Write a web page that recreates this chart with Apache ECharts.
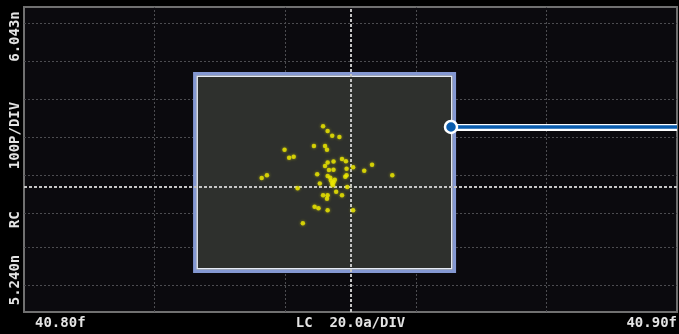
<!DOCTYPE html>
<html>
<head>
<meta charset="utf-8">
<script src="https://cdn.jsdelivr.net/npm/echarts@6/dist/echarts.min.js"></script>
<style>
html,body{margin:0;padding:0;background:#000;}
#chart{width:679px;height:334px;}
</style>
</head>
<body>
<div id="chart"></div>
<script>
// ---- data (LC in fF, RC in nF) ----
const lcValues = [40.8458,40.8465,40.8472,40.8483,40.8399,40.8444,40.8461,40.8464,40.8406,40.8413,
  40.8465,40.8474,40.8487,40.8493,40.8461,40.8504,40.8533,40.8494,40.8467,40.8474,
  40.8521,40.8564,40.8372,40.8364,40.8449,40.8465,40.8469,40.8476,40.8494,40.8492,
  40.8474,40.8453,40.8473,40.8495,40.8419,40.8478,40.8458,40.8465,40.8487,40.8464,
  40.8445,40.8451,40.8465,40.8504,40.8427,40.8470,40.8472];
const rcValues = [5.7289,5.7165,5.7042,5.7007,5.6673,5.6770,5.6770,5.6670,5.6460,5.6489,
  5.6336,5.6362,5.6428,5.6368,5.6244,5.6210,5.6276,5.6173,5.6139,5.6146,
  5.6120,5.5999,5.5999,5.5928,5.6025,5.5981,5.5936,5.5883,5.5999,5.5960,
  5.5817,5.5783,5.5738,5.5691,5.5657,5.5567,5.5472,5.5472,5.5472,5.5383,
  5.5170,5.5130,5.5078,5.5078,5.4735,5.5862,5.5783];
const xTickValues = [40.80, 40.90];
const xTickLabels = ['40.80f', '40.90f'];
const yTickValues = [5.240, 6.043];
const yTickLabels = ['5.240n', '6.043n'];
const xAxisName = 'LC  20.0a/DIV';
const yAxisName = 'RC     100P/DIV';
const xGridValues = [40.82, 40.84, 40.86, 40.88];
const yGridValues = [5.3058, 5.4059, 5.5033, 5.6033, 5.7007, 5.8008, 5.8982, 5.9982];
const centerX = 40.8495;
const centerY = 5.5685;

const points = lcValues.map((x, i) => [x, rcValues[i]]);

const FONT = 'bold 14px "DejaVu Sans Mono", "Liberation Mono", monospace';
const TXT = '#e4e4e4';

const chart = echarts.init(document.getElementById('chart'), null, {renderer: 'canvas'});
const option = {
  backgroundColor: '#000',
  animation: false,
  grid: {
    left: 24, right: 2, top: 7, bottom: 22,
    outerBoundsMode: 'none', containLabel: false,
    show: true, backgroundColor: '#0b0a0e',
    borderColor: '#707070', borderWidth: 2
  },
  xAxis: {
    type: 'value', min: xTickValues[0], max: xTickValues[1],
    axisLine: {show: false}, axisTick: {show: false}, splitLine: {show: false},
    name: xAxisName, nameLocation: 'middle', nameGap: 4, nameMoveOverlap: false,
    nameTextStyle: {color: TXT, fontFamily: '"DejaVu Sans Mono", monospace', fontWeight: 'bold', fontSize: 14, verticalAlign: 'top'},
    axisLabel: {
      customValues: xTickValues,
      formatter: v => xTickLabels[xTickValues.findIndex(t => Math.abs(t - v) < 1e-6)],
      alignMinLabel: 'left', alignMaxLabel: 'right',
      padding: [0, 0, 0, 11], margin: 4,
      color: TXT, fontFamily: '"DejaVu Sans Mono", monospace', fontWeight: 'bold', fontSize: 14
    }
  },
  yAxis: {
    type: 'value', min: yTickValues[0], max: yTickValues[1],
    axisLine: {show: false}, axisTick: {show: false}, splitLine: {show: false},
    axisLabel: {show: false}
  },
  graphic: [
    {type: 'text', x: 15, y: 280, rotation: Math.PI / 2, silent: true,
     style: {text: yTickLabels[0], align: 'center', verticalAlign: 'middle', fill: TXT, font: FONT}},
    {type: 'text', x: 15, y: 36.5, rotation: Math.PI / 2, silent: true,
     style: {text: yTickLabels[1], align: 'center', verticalAlign: 'middle', fill: TXT, font: FONT}},
    {type: 'text', x: 15, y: 165, rotation: Math.PI / 2, silent: true,
     style: {text: yAxisName, align: 'center', verticalAlign: 'middle', fill: TXT, font: FONT}}
  ],
  series: [
    {
      name: 'grid', type: 'scatter', data: [], z: 1, silent: true,
      markLine: {
        silent: true, symbol: 'none', z: 1, animation: false,
        label: {show: false},
        lineStyle: {color: '#4c4c50', width: 1, type: [2, 2]},
        emphasis: {disabled: true},
        data: xGridValues.map(v => ({xAxis: v})).concat(yGridValues.map(v => ({yAxis: v})))
      }
    },
    {
      name: 'box', type: 'scatter', data: [], z: 2, silent: true,
      markArea: {
        silent: true, z: 2,
        label: {show: false},
        emphasis: {disabled: true},
        data: [
          [{coord: [40.82616, 5.86713], itemStyle: {color: '#2e302d', borderColor: '#8498d2', borderWidth: 3.5}},
           {coord: [40.86590, 5.34715]}],
          [{coord: [40.82652, 5.86081], itemStyle: {color: 'rgba(0,0,0,0)', borderColor: '#e6ebf5', borderWidth: 1.5}},
           {coord: [40.86551, 5.35374]}]
        ]
      }
    },
    {
      name: 'cross', type: 'scatter', data: [], z: 3, silent: true,
      markLine: {
        silent: true, symbol: 'none', z: 3, animation: false,
        label: {show: false},
        lineStyle: {color: '#c4c4c4', width: 2, type: [3, 2]},
        emphasis: {disabled: true},
        data: [{xAxis: centerX}, {yAxis: centerY}]
      }
    },
    {
      name: 'C', type: 'scatter', z: 4, data: points,
      symbol: 'circle', symbolSize: 4.5,
      itemStyle: {color: '#eee800', shadowBlur: 3, shadowColor: 'rgba(235,230,0,0.7)'}
    },
    {
      name: 'callout', type: 'scatter', data: [], z: 5, silent: true,
      markLine: {
        silent: true, symbol: 'none', z: 5, animation: false,
        label: {show: false},
        emphasis: {disabled: true},
        data: [
          [{coord: [40.86539, 5.72707], lineStyle: {color: '#ffffff', width: 7, type: 'solid'}},
           {coord: [40.90, 5.72707]}],
          [{coord: [40.86539, 5.72707], lineStyle: {color: '#0a5cad', width: 3.5, type: 'solid'}},
           {coord: [40.90, 5.72707]}]
        ]
      },
      markPoint: {
        silent: true, z: 6, animation: false,
        symbol: 'circle', symbolSize: 12,
        label: {show: false},
        itemStyle: {color: '#0a5cad', borderColor: '#ffffff', borderWidth: 2.5},
        data: [{coord: [40.86539, 5.72707]}]
      }
    }
  ]
};
chart.setOption(option);
</script>
</body>
</html>
